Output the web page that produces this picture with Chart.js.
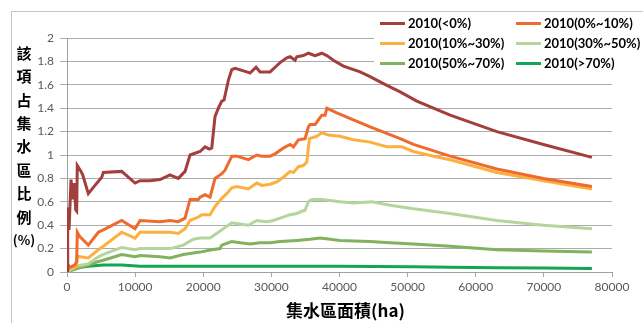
<!DOCTYPE html>
<html>
<head>
<meta charset="utf-8">
<script src="https://cdn.jsdelivr.net/npm/chart.js@4/dist/chart.umd.min.js"></script>
<style>
  html, body { margin: 0; padding: 0; background: #fff; }
  #wrap { width: 643px; height: 323px; }
</style>
</head>
<body>
<div id="wrap"><canvas id="c" width="643" height="323"></canvas></div>
<script>
// Catchment area (ha) and share of the catchment (%) for each 2010 class
const areaLt0 = [0, 100, 300, 590, 840, 1070, 1280, 1420, 1510, 2060, 2300, 3130, 4110, 5100, 5330, 8030, 9990, 10720, 12190, 13660, 15120, 16340, 17330, 18060, 19530, 20260, 20900, 21250, 21730, 22220, 22720, 23050, 23690, 24190, 24670, 26390, 26870, 27750, 28340, 29810, 30540, 31280, 32260, 32750, 33480, 33730, 34700, 35430, 36420, 37400, 38140, 39100, 40570, 43030, 44490, 46450, 48900, 51350, 56240, 63100, 69940, 77050];
const shareLt0 = [0.0, 0.55, 0.36, 0.79, 0.62, 0.76, 0.53, 0.52, 0.91, 0.86, 0.83, 0.67, 0.74, 0.81, 0.85, 0.86, 0.76, 0.78, 0.78, 0.79, 0.83, 0.80, 0.86, 1.00, 1.03, 1.07, 1.05, 1.06, 1.33, 1.40, 1.46, 1.47, 1.64, 1.73, 1.74, 1.71, 1.70, 1.75, 1.71, 1.71, 1.75, 1.79, 1.83, 1.84, 1.81, 1.84, 1.85, 1.87, 1.85, 1.87, 1.85, 1.81, 1.76, 1.71, 1.67, 1.61, 1.54, 1.46, 1.34, 1.20, 1.09, 0.98];

const area0to10 = [0, 190, 440, 1170, 1420, 1510, 1910, 3130, 4600, 5330, 8030, 9990, 10720, 13660, 15120, 16340, 17330, 18060, 19280, 19530, 20260, 21000, 21730, 22720, 23200, 24190, 24920, 26620, 27860, 28590, 29810, 30540, 31760, 32750, 33230, 33970, 34950, 35430, 35680, 36420, 36900, 37400, 37890, 38140, 39600, 42040, 44490, 48900, 50850, 56240, 63100, 69940, 77050];
const share0to10 = [0.03, 0.06, 0.04, 0.06, 0.09, 0.34, 0.30, 0.23, 0.34, 0.36, 0.44, 0.37, 0.44, 0.43, 0.44, 0.43, 0.46, 0.62, 0.62, 0.64, 0.66, 0.64, 0.80, 0.84, 0.87, 0.99, 0.99, 0.96, 1.00, 0.99, 0.99, 1.01, 1.06, 1.09, 1.07, 1.13, 1.14, 1.24, 1.26, 1.26, 1.30, 1.34, 1.34, 1.40, 1.36, 1.30, 1.24, 1.14, 1.09, 0.99, 0.88, 0.80, 0.73];

const area10to30 = [0, 190, 440, 1170, 1420, 1510, 1910, 3130, 4600, 5330, 8030, 9990, 10720, 13660, 15120, 16340, 17330, 18060, 19280, 19780, 21000, 21730, 22720, 23450, 24190, 24920, 26620, 27860, 28590, 29810, 30790, 31760, 32750, 33230, 33970, 34700, 35200, 35580, 36670, 37400, 38370, 40090, 42040, 44490, 46940, 49150, 50850, 53790, 56240, 63100, 69940, 77050];
const share10to30 = [0.07, 0.04, 0.03, 0.04, 0.05, 0.14, 0.13, 0.12, 0.19, 0.22, 0.34, 0.29, 0.34, 0.34, 0.34, 0.33, 0.37, 0.44, 0.47, 0.49, 0.49, 0.56, 0.63, 0.67, 0.72, 0.73, 0.71, 0.76, 0.74, 0.75, 0.77, 0.81, 0.86, 0.85, 0.90, 0.91, 0.94, 1.14, 1.16, 1.19, 1.17, 1.16, 1.13, 1.11, 1.07, 1.07, 1.03, 0.99, 0.96, 0.85, 0.78, 0.71];

const area30to50 = [0, 1420, 3130, 4600, 5330, 8030, 9990, 10720, 13660, 15120, 17080, 18550, 19530, 21000, 21730, 22720, 23450, 24190, 25400, 26620, 27860, 29320, 30290, 31280, 32750, 33730, 34950, 35430, 35930, 37400, 40090, 42040, 44740, 47430, 50850, 56240, 63100, 69940, 77050];
const share30to50 = [0.0, 0.05, 0.07, 0.13, 0.15, 0.21, 0.19, 0.20, 0.20, 0.20, 0.23, 0.28, 0.29, 0.29, 0.32, 0.36, 0.39, 0.42, 0.41, 0.40, 0.44, 0.43, 0.44, 0.46, 0.49, 0.50, 0.53, 0.60, 0.62, 0.62, 0.60, 0.59, 0.60, 0.57, 0.54, 0.50, 0.44, 0.40, 0.37];

const area50to70 = [0, 1420, 3130, 4600, 5330, 8030, 9990, 10720, 13660, 15120, 17080, 19530, 21250, 22470, 22720, 24190, 25400, 26870, 28340, 29810, 31280, 33730, 35680, 37150, 40090, 44490, 47430, 50850, 56240, 63100, 69940, 77050];
const share50to70 = [0.0, 0.03, 0.06, 0.09, 0.10, 0.15, 0.13, 0.14, 0.13, 0.12, 0.15, 0.17, 0.19, 0.20, 0.23, 0.26, 0.25, 0.24, 0.25, 0.25, 0.26, 0.27, 0.28, 0.29, 0.27, 0.26, 0.25, 0.24, 0.22, 0.19, 0.18, 0.17];

const areaGt70 = [0, 840, 1910, 3130, 5330, 8030, 10720, 15120, 20000, 25000, 30000, 35000, 40000, 45000, 50850, 56240, 63100, 69940, 77050];
const shareGt70 = [0.0, 0.02, 0.04, 0.05, 0.06, 0.06, 0.05, 0.05, 0.05, 0.05, 0.05, 0.05, 0.05, 0.048, 0.045, 0.04, 0.037, 0.035, 0.03];

const seriesLabels = ['2010(<0%)', '2010(0%~10%)', '2010(10%~30%)', '2010(30%~50%)', '2010(50%~70%)', '2010(>70%)'];
const seriesColors = ['#A23F3D', '#EF6A2D', '#FCB040', '#B4D59E', '#82B25D', '#12A552'];
const xTicks = [0, 10000, 20000, 30000, 40000, 50000, 60000, 70000, 80000];
const yTicks = [0, 0.2, 0.4, 0.6, 0.8, 1, 1.2, 1.4, 1.6, 1.8, 2];
const yTitleChars = ['該', '項', '占', '集', '水', '區', '比', '例', '(%)'];
const xTitle = '集水區面積(ha)';

const areas = [areaLt0, area0to10, area10to30, area30to50, area50to70, areaGt70];
const shares = [shareLt0, share0to10, share10to30, share30to50, share50to70, shareGt70];

const datasets = areas.map((xs, k) => ({
  label: seriesLabels[k],
  data: xs.map((x, i) => ({ x: x, y: shares[k][i] })),
  borderColor: seriesColors[k],
  backgroundColor: seriesColors[k],
  borderWidth: 3,
  pointRadius: 0,
  tension: 0,
  fill: false
}));
// draw the first series on top
datasets.forEach((d, i) => { d.order = i; });

const tickFont = { family: 'Lato, "Liberation Sans", sans-serif', size: 12 };

// white page, outer frame, legend box and axis titles
const decorations = {
  id: 'decorations',
  beforeDraw(chart) {
    const ctx = chart.ctx;
    ctx.save();
    ctx.fillStyle = '#ffffff';
    ctx.fillRect(0, 0, chart.width, chart.height);
    ctx.strokeStyle = '#C4C4C4';
    ctx.lineWidth = 1;
    ctx.strokeRect(11.5, 11.5, chart.width + 20, chart.height + 20);
    ctx.restore();
  },
  afterDraw(chart) {
    const ctx = chart.ctx;
    ctx.save();
    // legend
    ctx.fillStyle = '#ffffff';
    ctx.fillRect(374, 13, chart.width - 374, 59);
    const colX = [380, 516];
    const rowY = [23, 43, 63];
    ctx.font = 'bold 13px Lato, "Liberation Sans", sans-serif';
    ctx.textBaseline = 'middle';
    ctx.textAlign = 'left';
    chart.data.datasets.forEach((ds, i) => {
      const cx = colX[i % 2];
      const cy = rowY[Math.floor(i / 2)];
      ctx.strokeStyle = ds.borderColor;
      ctx.lineWidth = 3;
      ctx.beginPath();
      ctx.moveTo(cx, cy + 0.5);
      ctx.lineTo(cx + 25, cy + 0.5);
      ctx.stroke();
      ctx.fillStyle = '#000000';
      ctx.fillText(ds.label, cx + 28, cy + 1);
    });
    // y-axis title, stacked characters
    ctx.textAlign = 'center';
    ctx.fillStyle = '#000000';
    yTitleChars.forEach((ch, i) => {
      ctx.font = ch.length > 1
        ? 'bold 13px "Noto Sans CJK TC", sans-serif'
        : 'bold 15px "Noto Sans CJK TC", sans-serif';
      ctx.fillText(ch, 24, 53 + i * 23.4);
    });
    // x-axis title
    const a = chart.chartArea;
    ctx.font = 'bold 17px "Noto Sans CJK TC", sans-serif';
    ctx.fillText(xTitle, (a.left + a.right) / 2 + 6, 311);
    ctx.restore();
  }
};

new Chart(document.getElementById('c'), {
  type: 'line',
  data: { datasets: datasets },
  plugins: [decorations],
  options: {
    responsive: false,
    animation: false,
    devicePixelRatio: 1,
    layout: { padding: { left: 0, right: 31, top: 38, bottom: 0 } },
    plugins: { legend: { display: false }, tooltip: { enabled: false } },
    scales: {
      x: {
        type: 'linear',
        min: 0,
        max: 80000,
        afterFit: s => { s.height = 51; },
        afterBuildTicks: s => { s.ticks = xTicks.map(v => ({ value: v })); },
        ticks: { color: '#595959', font: tickFont, padding: 3, maxRotation: 0, callback: v => String(v) },
        grid: { drawOnChartArea: false, drawTicks: true, tickLength: 5, color: '#A6A6A6' },
        border: { display: true, color: '#A0A0A0', width: 1 }
      },
      y: {
        type: 'linear',
        min: 0,
        max: 2,
        afterFit: s => { s.width = 67; },
        afterBuildTicks: s => { s.ticks = yTicks.map(v => ({ value: v })); },
        ticks: { color: '#595959', font: tickFont, padding: 6, callback: v => String(v) },
        grid: { drawOnChartArea: true, drawTicks: true, tickLength: 7, color: '#ABABAB', lineWidth: 1 },
        border: { display: true, color: '#A0A0A0', width: 1 }
      }
    }
  }
});
</script>
</body>
</html>
